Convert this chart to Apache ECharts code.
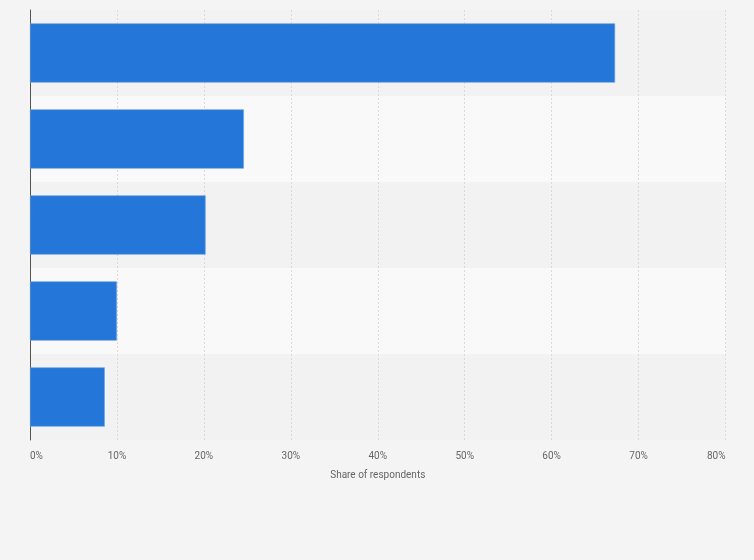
<!DOCTYPE html>
<html>
<head>
    <meta charset="utf-8" />
    <title>Share of respondents</title>
    <script src="https://cdn.jsdelivr.net/npm/echarts@6/dist/echarts.min.js"></script>
    <style>
        html, body { margin: 0; padding: 0; background: #f4f4f4; }
        #main { width: 754px; height: 560px; }
    </style>
</head>
<body>
    <div id="main"></div>
    <script>
    // categories are not labelled in the picture
    var categories = ['Answer 1', 'Answer 2', 'Answer 3', 'Answer 4', 'Answer 5'];
    var shares = [67.3, 24.6, 20.2, 10.0, 8.6];

    var myChart = echarts.init(document.getElementById('main'));
    var option = {
        backgroundColor: '#f4f4f4',
        grid: { left: 30, right: 28.5, top: 10, bottom: 120 },
        xAxis: {
            type: 'value',
            min: 0,
            max: 80,
            interval: 10,
            name: 'Share of respondents',
            nameLocation: 'middle',
            nameGap: 30,
            nameTextStyle: { color: '#666', fontSize: 10, fontFamily: 'Roboto' },
            axisLine: { show: false },
            axisTick: { show: false },
            axisLabel: {
                color: '#666',
                fontSize: 10,
                fontFamily: 'Roboto',
                margin: 11,
                alignMinLabel: 'left',
                alignMaxLabel: 'right',
                formatter: '{value}%'
            },
            splitLine: { lineStyle: { color: '#dadada', type: [2, 2] } }
        },
        yAxis: {
            type: 'category',
            data: categories,
            inverse: true,
            axisLine: { lineStyle: { color: '#555', width: 1 } },
            axisTick: { show: false },
            axisLabel: { show: false },
            splitArea: { show: true, areaStyle: { color: ['#f2f2f2', '#f9f9f9'] } }
        },
        series: [{
            type: 'bar',
            data: shares,
            barCategoryGap: '31%',
            itemStyle: { color: '#2576d9', borderColor: '#6aa3e8', borderWidth: 0.6 },
            silent: true
        }]
    };
    myChart.setOption(option);
    </script>
</body>
</html>
